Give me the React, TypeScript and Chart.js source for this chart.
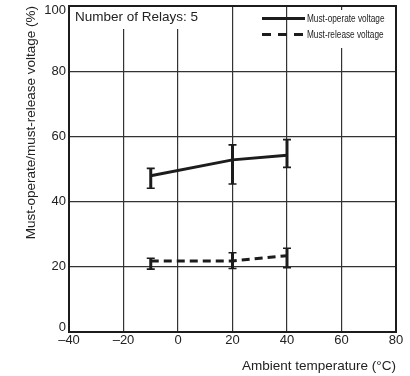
import { useEffect, useRef } from "react";
import { Chart, registerables } from "chart.js";

Chart.register(...registerables);

// Ambient temperature (°C) at which each relay group was measured
const temperatures = [-10, 20, 40];

// Must-operate voltage (% of rated): mean, max and min
const operateVoltage = [47.9, 52.8, 54.2];
const operateHigh = [50.2, 57.4, 59.0];
const operateLow = [44.1, 45.4, 50.5];

// Must-release voltage (% of rated): mean, max and min
const releaseVoltage = [21.8, 21.8, 23.4];
const releaseHigh = [22.6, 24.3, 25.7];
const releaseLow = [19.3, 19.5, 19.7];

const xTicks = [-40, -20, 0, 20, 40, 60, 80];
const yTicks = [0, 20, 40, 60, 80, 100];

const seriesNames = ["Must-operate voltage", "Must-release voltage"];
const noteText = "Number of Relays: 5";
const xTitle = "Ambient temperature (\u00B0C)";
const yTitle = "Must-operate/must-release voltage (%)";

const INK = "#1c1c1c";
const SANS = '"Liberation Sans", Arial, Helvetica, sans-serif';

const fmtTick = (v: number) => (v < 0 ? "\u2013" + Math.abs(v) : String(v));

// White panels for the note and the legend, plot frame, note text and legend
const overlayPlugin = {
  id: "overlay",
  beforeDatasetsDraw(chart: any) {
    const { ctx, chartArea: a } = chart;
    ctx.save();
    ctx.fillStyle = "#ffffff";
    ctx.fillRect(a.left + 2, a.top + 1, 131, 22);
    ctx.fillRect(a.right - 96, a.top + 4, 95, 38);

    ctx.strokeStyle = INK;
    ctx.lineWidth = 2;
    ctx.strokeRect(a.left, a.top, a.right - a.left, a.bottom - a.top);

    ctx.fillStyle = "#222";
    ctx.font = `13.5px ${SANS}`;
    ctx.textBaseline = "middle";
    ctx.textAlign = "left";
    ctx.fillText(noteText, a.left + 6, a.top + 11);

    // legend: line sample followed by a condensed label
    chart.data.datasets.forEach((ds: any, i: number) => {
      const y = a.top + 12.5 + i * 16;
      const x0 = a.right - 134;
      const x1 = a.right - 91;
      ctx.strokeStyle = INK;
      ctx.lineWidth = 3;
      ctx.setLineDash(ds.borderDash && ds.borderDash.length ? [9, 7] : []);
      ctx.beginPath();
      ctx.moveTo(x0, y);
      ctx.lineTo(x1, y);
      ctx.stroke();
      ctx.setLineDash([]);
      ctx.save();
      ctx.translate(x1 + 2, y);
      ctx.scale(0.75, 1);
      ctx.fillStyle = "#222";
      ctx.font = `11px ${SANS}`;
      ctx.fillText(ds.label, 0, 0);
      ctx.restore();
    });
    ctx.restore();
  },
  afterDatasetsDraw(chart: any) {
    const { ctx } = chart;
    const xs = chart.scales.x;
    const ys = chart.scales.y;
    ctx.save();
    ctx.strokeStyle = INK;
    chart.data.datasets.forEach((ds: any) => {
      ds.data.forEach((p: any, i: number) => {
        const px = xs.getPixelForValue(p.x);
        const top = ys.getPixelForValue(ds.errorHigh[i]);
        const bot = ys.getPixelForValue(ds.errorLow[i]);
        ctx.lineWidth = 3;
        ctx.beginPath();
        ctx.moveTo(px, top);
        ctx.lineTo(px, bot);
        ctx.stroke();
        ctx.lineWidth = 1.6;
        ctx.beginPath();
        ctx.moveTo(px - 4, top);
        ctx.lineTo(px + 4, top);
        ctx.moveTo(px - 4, bot);
        ctx.lineTo(px + 4, bot);
        ctx.stroke();
      });
    });
    ctx.restore();
  },
};

export default function App() {
  const canvasRef = useRef<HTMLCanvasElement | null>(null);

  useEffect(() => {
    if (!canvasRef.current) return;
    const yMin = yTicks[0];
    const yMax = yTicks[yTicks.length - 1];
    const chart = new Chart(canvasRef.current, {
      type: "line",
      data: {
        datasets: [
          {
            label: seriesNames[0],
            data: temperatures.map((t, i) => ({ x: t, y: operateVoltage[i] })),
            errorHigh: operateHigh,
            errorLow: operateLow,
            borderColor: INK,
            borderWidth: 3,
            pointRadius: 0,
            tension: 0,
          } as any,
          {
            label: seriesNames[1],
            data: temperatures.map((t, i) => ({ x: t, y: releaseVoltage[i] })),
            errorHigh: releaseHigh,
            errorLow: releaseLow,
            borderColor: INK,
            borderWidth: 3,
            borderDash: [8, 5],
            pointRadius: 0,
            tension: 0,
          } as any,
        ],
      },
      options: {
        animation: false,
        responsive: false,
        events: [],
        layout: { padding: { top: 6, right: 14, left: 0, bottom: 0 } },
        plugins: { legend: { display: false }, tooltip: { enabled: false } },
        scales: {
          x: {
            type: "linear",
            min: xTicks[0],
            max: xTicks[xTicks.length - 1],
            afterBuildTicks: (s: any) => {
              s.ticks = xTicks.map((v) => ({ value: v }));
            },
            afterFit: (s: any) => {
              s.height = 44;
              s.paddingLeft = 0;
              s.paddingRight = 0;
            },
            ticks: {
              color: "#222",
              font: { family: SANS, size: 13 },
              padding: 1,
              maxRotation: 0,
              autoSkip: false,
              callback: (v: any) => fmtTick(Number(v)),
            },
            grid: { color: "#333", lineWidth: 1.2, drawTicks: false },
            border: { display: false },
            title: {
              display: true,
              text: xTitle,
              align: "end",
              color: "#222",
              font: { family: SANS, size: 13.5 },
              padding: { top: 0, bottom: 2 },
            },
          },
          y: {
            type: "linear",
            min: yMin,
            max: yMax,
            afterBuildTicks: (s: any) => {
              s.ticks = yTicks.map((v) => ({ value: v }));
            },
            afterFit: (s: any) => {
              s.width = 69;
              s.paddingTop = 0;
              s.paddingBottom = 0;
            },
            ticks: {
              color: "#222",
              // end labels sit just inside the frame
              font: (c: any) => {
                const v = c.tick ? c.tick.value : null;
                const edge = v === yMin || v === yMax;
                return { family: SANS, size: 13, lineHeight: edge ? "9px" : 1.2 };
              },
              padding: 3,
              callback: (v: any) => {
                const n = Number(v);
                if (n === yMax) return ["", fmtTick(n)];
                if (n === yMin) return [fmtTick(n), ""];
                return fmtTick(n);
              },
            },
            grid: { color: "#333", lineWidth: 1.2, drawTicks: false },
            border: { display: false },
            title: {
              display: true,
              text: yTitle,
              align: "end",
              color: "#222",
              font: { family: SANS, size: 13.5 },
              padding: { top: 23, bottom: 0 },
            },
          },
        },
      } as any,
      plugins: [overlayPlugin],
    });
    return () => chart.destroy();
  }, []);

  return (
    <div style={{ position: "absolute", left: 0, top: 0, width: 410, height: 376, background: "#fff" }}>
      <canvas ref={canvasRef} width={410} height={376} style={{ display: "block" }} />
    </div>
  );
}
